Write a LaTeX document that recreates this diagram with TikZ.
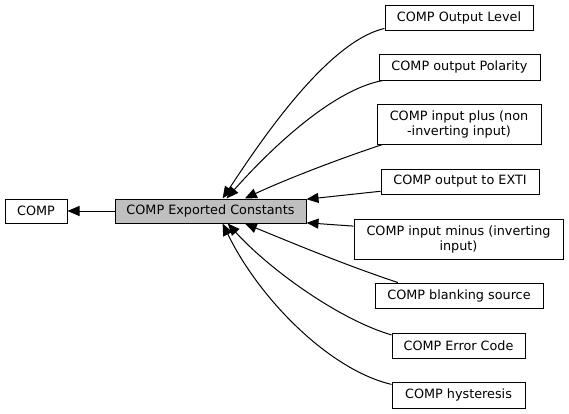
\documentclass[tikz,border=0pt]{standalone}
\usepackage{fontspec}
\setmainfont{DejaVu Sans}
\usepackage{tikz}
\usetikzlibrary{arrows.meta}
\definecolor{cinzagrupo}{RGB}{191,191,191}
\tikzset{
  caixa/.style={rectangle,draw=black,fill=white,inner sep=0pt,align=center,
    line width=1pt,font=\fontsize{12.8}{15}\selectfont},
  atual/.style={caixa,fill=cinzagrupo},
  seta/.style={-{Triangle[length=12pt,width=10pt]},line width=1pt}
}

\begin{document}
\begin{tikzpicture}[x=1pt,y=-1pt]
  \useasboundingbox (0,0) rectangle (569,413);
  % grupos
  \node[caixa,minimum width=62pt,minimum height=24pt] (comp) at (36,211) {COMP};
  \node[atual,minimum width=191pt,minimum height=24pt] (exp) at (210.5,211) {COMP Exported Constants};
  \node[caixa,minimum width=148pt,minimum height=25pt] (nivel) at (459,18) {COMP Output Level};
  \node[caixa,minimum width=161pt,minimum height=26pt] (polar) at (459.5,67) {COMP output Polarity};
  \node[caixa,minimum width=164pt,minimum height=40pt] (mais) at (459,124) {COMP input plus (non\\-inverting input)};
  \node[caixa,minimum width=158pt,minimum height=25pt] (exti) at (460,181.5) {COMP output to EXTI};
  \node[caixa,minimum width=209pt,minimum height=40pt] (menos) at (458.5,239) {COMP input minus (inverting\\input)};
  \node[caixa,minimum width=168pt,minimum height=25pt] (blank) at (459,295.5) {COMP blanking source};
  \node[caixa,minimum width=133pt,minimum height=25pt] (erro) at (458.5,345.5) {COMP Error Code};
  \node[caixa,minimum width=133pt,minimum height=26pt] (hist) at (458.5,395) {COMP hysteresis};
  % ligacoes
  \draw[seta] (exp) -- (comp);
  \draw[seta] (nivel.188.5) .. controls (325,42) and (255,150) .. (exp.46);
  \draw[seta] (polar.190) .. controls (330,90) and (265,155) .. (exp.38);
  \draw[seta] (mais.195.5) .. controls (330,162) and (280,182) .. (exp.20);
  \draw[seta] (exti.187.6) -- (exp.7);
  \draw[seta] (menos.173.4) -- (exp.-7);
  \draw[seta] (blank.168.6) .. controls (345,265) and (290,242) .. (exp.-20);
  \draw[seta] (erro.171) .. controls (340,320) and (270,270) .. (exp.-36);
  \draw[seta] (hist.171.3) .. controls (330,370) and (260,300) .. (exp.-46);
\end{tikzpicture}
\end{document}
